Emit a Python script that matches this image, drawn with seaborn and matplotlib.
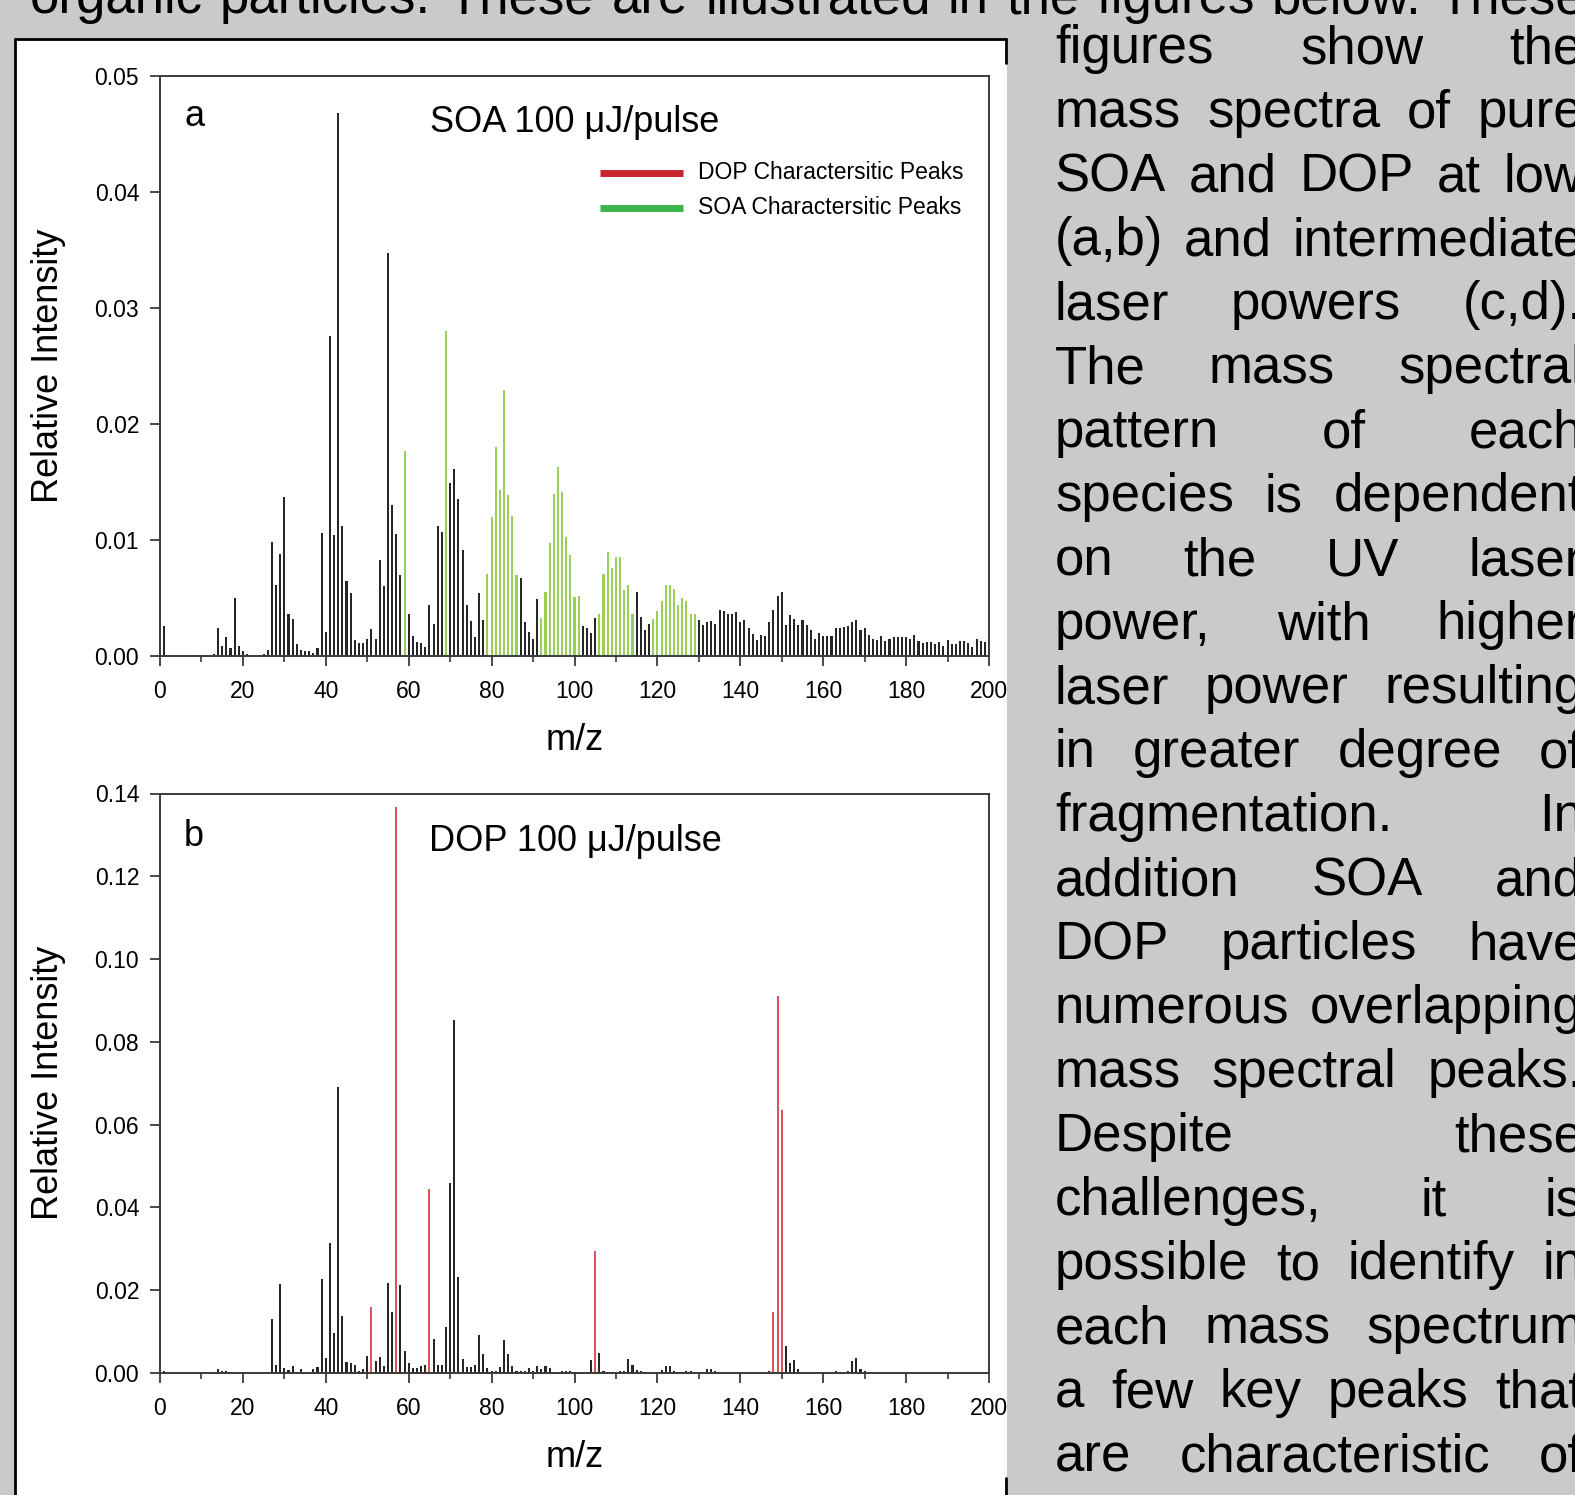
import matplotlib
matplotlib.use("Agg")
import matplotlib.pyplot as plt
import seaborn as sns
import pandas as pd
from matplotlib.patches import Rectangle
from matplotlib.lines import Line2D
from matplotlib.ticker import MultipleLocator, FormatStrFormatter

# ---------------- data ----------------
# Panel a: SOA 100 uJ/pulse, m/z 1..199
mz_a = list(range(1, 200))
int_a = [
    0.0026, 0, 0, 0, 0, 0, 0, 0.0001, 0, 0,
    0, 0, 0.0002, 0.0024, 0.0009, 0.0016, 0.0007, 0.0050, 0.0009, 0.0004,
    0.0002, 0, 0, 0.0001, 0.0002, 0.0005, 0.0098, 0.0061, 0.0088, 0.0137,
    0.0036, 0.0032, 0.0010, 0.0005, 0.0004, 0.0004, 0.0003, 0.0007, 0.0106, 0.0021,
    0.0276, 0.0104, 0.0468, 0.0112, 0.0065, 0.0054, 0.0014, 0.0011, 0.0011, 0.0015,
    0.0023, 0.0015, 0.0083, 0.0060, 0.0347, 0.0130, 0.0105, 0.0070, 0.0177, 0.0036,
    0.0017, 0.0012, 0.0011, 0.0008, 0.0044, 0.0028, 0.0112, 0.0107, 0.0280, 0.0149,
    0.0161, 0.0135, 0.0091, 0.0044, 0.0030, 0.0016, 0.0054, 0.0031, 0.0071, 0.0120,
    0.0180, 0.0143, 0.0229, 0.0139, 0.0121, 0.0070, 0.0067, 0.0029, 0.0021, 0.0015,
    0.0049, 0.0033, 0.0055, 0.0097, 0.0140, 0.0163, 0.0141, 0.0103, 0.0087, 0.0051,
    0.0052, 0.0026, 0.0024, 0.0020, 0.0033, 0.0036, 0.0071, 0.0090, 0.0076, 0.0085,
    0.0085, 0.0057, 0.0061, 0.0036, 0.0055, 0.0034, 0.0022, 0.0028, 0.0032, 0.0039,
    0.0047, 0.0061, 0.0061, 0.0058, 0.0044, 0.0050, 0.0047, 0.0036, 0.0036, 0.0031,
    0.0027, 0.0029, 0.0030, 0.0028, 0.0040, 0.0039, 0.0036, 0.0036, 0.0038, 0.0029,
    0.0031, 0.0024, 0.0019, 0.0014, 0.0018, 0.0017, 0.0029, 0.0040, 0.0052, 0.0055,
    0.0027, 0.0035, 0.0032, 0.0027, 0.0031, 0.0027, 0.0022, 0.0015, 0.0020, 0.0017,
    0.0017, 0.0017, 0.0024, 0.0024, 0.0025, 0.0026, 0.0029, 0.0031, 0.0022, 0.0024,
    0.0018, 0.0015, 0.0014, 0.0017, 0.0013, 0.0015, 0.0016, 0.0016, 0.0016, 0.0016,
    0.0015, 0.0018, 0.0013, 0.0011, 0.0012, 0.0012, 0.0010, 0.0012, 0.0009, 0.0014,
    0.0010, 0.0010, 0.0013, 0.0013, 0.0011, 0.0008, 0.0015, 0.0013, 0.0012,
]
soa_peaks = [59, 69, 79, 80, 81, 82, 83, 84, 85, 86,
             92, 93, 94, 95, 96, 97, 98, 99, 100, 101,
             106, 107, 108, 109, 110, 111, 112, 113, 114,
             119, 120, 121, 122, 123, 124, 125, 126, 127, 128, 129]

# Panel b: DOP 100 uJ/pulse
mz_b = [1, 14, 15, 16, 18, 26, 27, 28, 29, 30, 31, 32, 33, 34, 35, 37, 38, 39, 40,
        41, 42, 43, 44, 45, 46, 47, 48, 49, 50, 51, 52, 53, 54, 55, 56, 57, 58, 59, 60,
        61, 62, 63, 64, 65, 66, 67, 68, 69, 70, 71, 72, 73, 74, 75, 76, 77, 78, 79, 80,
        81, 82, 83, 84, 85, 86, 87, 88, 89, 90, 91, 92, 93, 94, 95, 96, 97, 98, 99, 100,
        101, 102, 103, 104, 105, 106, 107, 108, 109, 110, 111, 112, 113, 114, 115, 116,
        117, 120, 121, 122, 123, 124, 126, 127, 128, 129, 132, 133, 134, 147, 148, 149,
        150, 151, 152, 153, 154, 155, 163, 166, 167, 168, 169, 170]
int_b = [0.0006, 0.0010, 0.0006, 0.0006, 0.0002, 0.0003, 0.0131, 0.0019, 0.0216, 0.0013,
         0.0008, 0.0016, 0.0003, 0.0010, 0.0002, 0.0010, 0.0014, 0.0228, 0.0036,
         0.0313, 0.0097, 0.0690, 0.0138, 0.0026, 0.0023, 0.0020, 0.0006, 0.0010, 0.0042,
         0.0160, 0.0030, 0.0038, 0.0016, 0.0217, 0.0148, 0.1367, 0.0212, 0.0053, 0.0023,
         0.0011, 0.0011, 0.0016, 0.0019, 0.0444, 0.0082, 0.0020, 0.0020, 0.0110, 0.0459,
         0.0854, 0.0233, 0.0035, 0.0015, 0.0015, 0.0019, 0.0092, 0.0047, 0.0012, 0.0005,
         0.0006, 0.0015, 0.0079, 0.0045, 0.0018, 0.0005, 0.0005, 0.0005, 0.0011, 0.0006,
         0.0016, 0.0010, 0.0016, 0.0011, 0.0002, 0.0002, 0.0005, 0.0005, 0.0005, 0.0002,
         0.0002, 0.0002, 0.0002, 0.0031, 0.0294, 0.0049, 0.0005, 0.0002, 0.0002, 0.0002,
         0.0004, 0.0005, 0.0035, 0.0019, 0.0008, 0.0005,
         0.0002, 0.0002, 0.0008, 0.0018, 0.0018, 0.0004, 0.0002, 0.0006, 0.0004, 0.0002,
         0.0010, 0.0010, 0.0005, 0.0005, 0.0148, 0.0910,
         0.0636, 0.0066, 0.0025, 0.0031, 0.0009, 0.0002, 0.0004, 0.0004, 0.0028, 0.0036,
         0.0009, 0.0004]
dop_peaks = [51, 57, 65, 105, 148, 149, 150]

x_ticks = [0, 20, 40, 60, 80, 100, 120, 140, 160, 180, 200]
y_ticks_a = [0.00, 0.01, 0.02, 0.03, 0.04, 0.05]
y_ticks_b = [0.00, 0.02, 0.04, 0.06, 0.08, 0.10, 0.12, 0.14]

legend_labels = ["DOP Charactersitic Peaks", "SOA Charactersitic Peaks"]

para_top = "organic particles. These are illustrated in the figures below. These"
para_lines = [
    "figures show the",
    "mass spectra of pure",
    "SOA and DOP at low",
    "(a,b) and intermediate",
    "laser powers (c,d).",
    "The mass spectral",
    "pattern of each",
    "species is dependent",
    "on the UV laser",
    "power, with higher",
    "laser power resulting",
    "in greater degree of",
    "fragmentation. In",
    "addition SOA and",
    "DOP particles have",
    "numerous overlapping",
    "mass spectral peaks.",
    "Despite these",
    "challenges, it is",
    "possible to identify in",
    "each mass spectrum",
    "a few key peaks that",
    "are characteristic of",
]

# ---------------- style ----------------
sns.set_theme(style="ticks")
plt.rcParams["font.family"] = ["Liberation Sans", "DejaVu Sans"]
plt.rcParams["text.color"] = "black"
plt.rcParams["axes.labelcolor"] = "black"

W, H = 1575, 1495
BG = "#c9cacc"
fig = plt.figure(figsize=(W / 100, H / 100), dpi=100, facecolor=BG)


def fx(x):
    return x / W


def fy(y):
    return 1 - y / H


# white figure panel (drawn beneath the axes)
fig.add_artist(Rectangle((fx(15), fy(1520)), fx(1007) - fx(15), fy(39) - fy(1520),
                         transform=fig.transFigure, facecolor="white",
                         edgecolor="none", zorder=-10))
for (x0, y0, x1, y1) in [(15, 39, 15, 1500), (15, 39, 1006, 39),
                         (1006, 39, 1006, 63), (1006, 1478, 1006, 1500)]:
    fig.add_artist(Line2D([fx(x0), fx(x1)], [fy(y0), fy(y1)], color="black",
                          lw=2.0, transform=fig.transFigure, zorder=-5))

spine_c = "#3a3a3a"
colors = {"other": "#262626", "SOA": "#98d057", "DOP": "#de5359"}


def style_axes(ax, yticks, ymax):
    ax.set_xlim(0, 200)
    ax.set_ylim(0, ymax)
    ax.set_xticks(x_ticks)
    ax.xaxis.set_minor_locator(MultipleLocator(10))
    ax.set_yticks(yticks)
    ax.yaxis.set_major_formatter(FormatStrFormatter("%.2f"))
    for s in ax.spines.values():
        s.set_visible(True)
        s.set_color(spine_c)
        s.set_linewidth(1.4)
    ax.tick_params(axis="both", which="major", direction="out", length=7, width=1.3,
                   color=spine_c, labelsize=16.5, labelcolor="black")
    ax.tick_params(axis="x", which="minor", direction="out", length=4, width=1.2,
                   color=spine_c)
    ax.tick_params(axis="x", which="major", pad=10)
    ax.tick_params(axis="y", which="major", pad=8)
    ax.set_xlabel("m/z", fontsize=26, color="black")
    ax.set_ylabel("Relative Intensity", fontsize=26, color="black")
    ax.xaxis.set_label_coords(0.5, -0.116)
    ax.yaxis.set_label_coords(-0.113, 0.5)
    ax.set_facecolor("white")


bar_kw = dict(native_scale=True, dodge=False, width=0.5, errorbar=None,
              legend=False, saturation=1, linewidth=0)

# ---------------- panel a ----------------
ax_a = fig.add_axes([fx(160), fy(656), fx(989) - fx(160), fy(76) - fy(656)])
df_a = pd.DataFrame({"mz": mz_a, "intensity": int_a})
df_a["kind"] = ["SOA" if m in soa_peaks else "other" for m in mz_a]
sns.barplot(data=df_a, x="mz", y="intensity", hue="kind", palette=colors,
            ax=ax_a, **bar_kw)
style_axes(ax_a, y_ticks_a, 0.05)
ax_a.text(0.029, 0.931, "a", transform=ax_a.transAxes, fontsize=26, va="center",
          ha="left", color="black")
ax_a.text(0.326, 0.919, "SOA 100 \u03bcJ/pulse", transform=ax_a.transAxes, fontsize=26,
          va="center", ha="left", color="black")
leg_colors = ["#c9252c", "#3cb44b"]
for i, (lab, c) in enumerate(zip(legend_labels, leg_colors)):
    yy = 0.833 - i * 0.060
    ax_a.plot([0.531, 0.631], [yy, yy], color=c, lw=5, transform=ax_a.transAxes,
              solid_capstyle="butt")
    ax_a.text(0.649, yy, lab, transform=ax_a.transAxes, fontsize=16.5, va="center",
              ha="left", color="black")

# ---------------- panel b ----------------
ax_b = fig.add_axes([fx(160), fy(1373), fx(989) - fx(160), fy(793.5) - fy(1373)])
df_b = pd.DataFrame({"mz": mz_b, "intensity": int_b})
df_b["kind"] = ["DOP" if m in dop_peaks else "other" for m in mz_b]
sns.barplot(data=df_b, x="mz", y="intensity", hue="kind", palette=colors,
            ax=ax_b, **bar_kw)
style_axes(ax_b, y_ticks_b, 0.14)
ax_b.text(0.029, 0.925, "b", transform=ax_b.transAxes, fontsize=26, va="center",
          ha="left", color="black")
ax_b.text(0.324, 0.917, "DOP 100 \u03bcJ/pulse", transform=ax_b.transAxes, fontsize=26,
          va="center", ha="left", color="black")

# ---------------- poster text ----------------
renderer = fig.canvas.get_renderer()
TXT_SIZE = 38


def justify(line, x_left, x_right, y_base):
    words = line.split()
    texts = [fig.text(0, 0, w, fontsize=TXT_SIZE, color="black", ha="left",
                      va="baseline") for w in words]
    widths = [t.get_window_extent(renderer).width for t in texts]
    if len(words) > 1:
        gap = (x_right - x_left - sum(widths)) / (len(words) - 1)
    else:
        gap = 0
    x = x_left
    for t, w in zip(texts, widths):
        t.set_position((fx(x), fy(y_base)))
        x += w + gap


justify(para_top, 30, 1585, 13)
for i, line in enumerate(para_lines):
    justify(line, 1055, 1583, 63.3 + 64.0 * i)

fig.savefig("out.png", dpi=100, facecolor=BG)
